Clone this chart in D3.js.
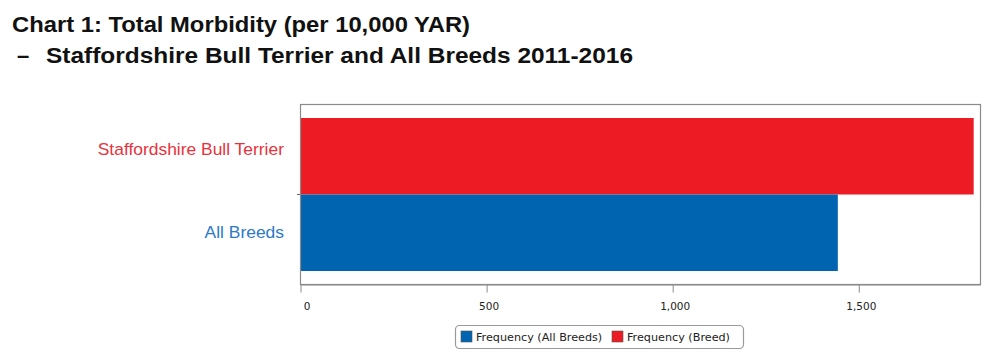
<!DOCTYPE html>
<html>
<head>
<meta charset="utf-8">
<script src="https://cdn.jsdelivr.net/npm/d3@7"></script>
<style>
  body { margin: 0; background: #fff; }
  svg { display: block; }
</style>
</head>
<body>
<div id="chart-area"></div>
<script>
// Data
var categories = ["Staffordshire Bull Terrier", "All Breeds"];
var frequency = [1810, 1445];
var seriesNames = ["Frequency (All Breeds)", "Frequency (Breed)"];
var seriesColors = ["#0064b1", "#ed1c24"];
var labelColors = ["#e8323c", "#2e78c8"];
var xTicks = [0, 500, 1000, 1500];

var width = 1004, height = 352;
var plot = { left: 300, right: 980, top: 104, bottom: 284 };

var svg = d3.select("#chart-area")
    .append("svg")
    .attr("width", width)
    .attr("height", height);

// Title (two lines)
var title = svg.append("g")
    .attr("font-family", "Liberation Sans, Arial, sans-serif")
    .attr("font-weight", "bold")
    .attr("font-size", "22px")
    .attr("fill", "#111");
title.append("text").attr("x", 12).attr("y", 32)
    .attr("textLength", 458).attr("lengthAdjust", "spacingAndGlyphs")
    .text("Chart 1: Total Morbidity (per 10,000 YAR)");
title.append("text").attr("x", 17).attr("y", 63)
    .text("–");
title.append("text").attr("x", 46).attr("y", 63)
    .attr("textLength", 587).attr("lengthAdjust", "spacingAndGlyphs")
    .text("Staffordshire Bull Terrier and All Breeds 2011-2016");

// Scales
var x = d3.scaleLinear()
    .domain([0, 1827])
    .range([plot.left, plot.right]);

var y = d3.scaleBand()
    .domain(categories)
    .range([118, 271])
    .paddingInner(0);

var yLabel = d3.scaleBand()
    .domain(categories)
    .range([108, 274]);

// Bars
svg.selectAll("rect.bar")
    .data(categories)
    .enter()
    .append("rect")
    .attr("class", "bar")
    .attr("x", x(0))
    .attr("y", d => y(d))
    .attr("width", (d, i) => x(frequency[i]) - x(0))
    .attr("height", y.bandwidth())
    .attr("fill", (d, i) => seriesColors[1 - i]);

// Plot frame
svg.append("rect")
    .attr("x", plot.left + 0.5)
    .attr("y", plot.top + 0.5)
    .attr("width", plot.right - plot.left)
    .attr("height", plot.bottom - plot.top)
    .attr("fill", "none")
    .attr("stroke", "#8a8a8a")
    .attr("stroke-width", 1.2);

// X axis
var xAxis = svg.append("g")
    .attr("transform", `translate(0.5, ${plot.bottom + 0.5})`)
    .call(d3.axisBottom(x).tickValues(xTicks).tickSize(8).tickSizeOuter(0).tickPadding(10)
        .tickFormat(d3.format(",")));
xAxis.select(".domain").attr("stroke", "#8a8a8a");
xAxis.selectAll(".tick line").attr("stroke", "#8a8a8a");
xAxis.selectAll(".tick text")
    .attr("font-family", "DejaVu Sans, Tahoma, sans-serif")
    .attr("font-size", "10.5px")
    .attr("fill", "#222")
    .attr("dx", d => d === 0 ? 6 : 2);

// Category tick between bands
svg.append("line")
    .attr("x1", plot.left - 3).attr("x2", plot.left)
    .attr("y1", y(categories[1])).attr("y2", y(categories[1]))
    .attr("stroke", "#666");

// Category labels
svg.selectAll("text.cat")
    .data(categories)
    .enter()
    .append("text")
    .attr("class", "cat")
    .attr("transform", d => `translate(284, ${yLabel(d) + yLabel.bandwidth() / 2}) scale(1.09, 1)`)
    .attr("dy", "0.35em")
    .attr("text-anchor", "end")
    .attr("font-family", "Liberation Sans, Arial, sans-serif")
    .attr("font-size", "16px")
    .attr("fill", (d, i) => labelColors[i])
    .text(d => d);

// Legend
var legend = svg.append("g");
legend.append("rect")
    .attr("x", 455.5).attr("y", 325.5)
    .attr("width", 288).attr("height", 23)
    .attr("rx", 4)
    .attr("fill", "#fff")
    .attr("stroke", "#9a9a9a")
    .attr("stroke-width", 1.2);

var legendX = [461, 612];
var items = legend.selectAll("g.item")
    .data(seriesNames)
    .enter()
    .append("g")
    .attr("class", "item")
    .attr("transform", (d, i) => `translate(${legendX[i]}, 331)`);
items.append("rect")
    .attr("width", 11).attr("height", 11)
    .attr("fill", (d, i) => seriesColors[i])
    .attr("stroke", "#555")
    .attr("stroke-width", 0.6);
items.append("text")
    .attr("x", 15)
    .attr("y", 10)
    .attr("font-family", "DejaVu Sans, Tahoma, sans-serif")
    .attr("font-size", "11.2px")
    .attr("fill", "#222")
    .text(d => d);
</script>
</body>
</html>
